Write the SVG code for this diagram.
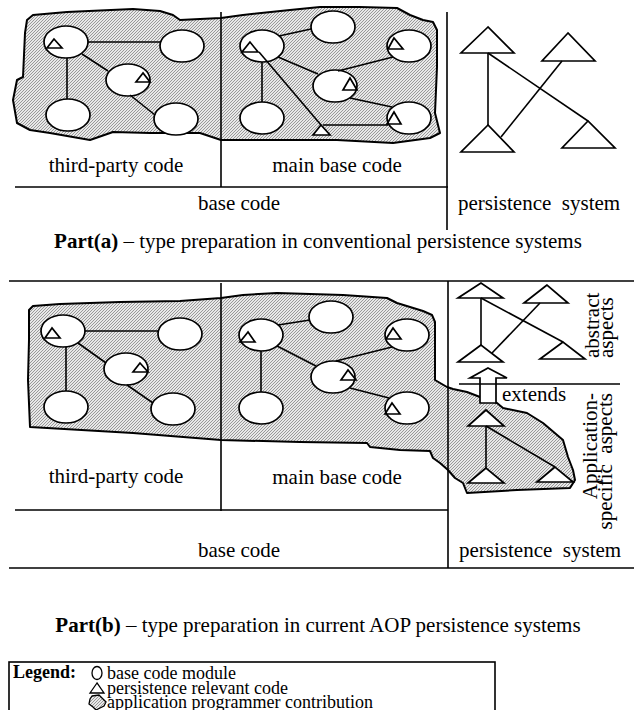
<svg xmlns="http://www.w3.org/2000/svg" width="634" height="710" viewBox="0 0 634 710">
<defs>
<pattern id="hatch" patternUnits="userSpaceOnUse" width="3" height="3">
<rect width="3" height="3" fill="#e8e8e8"/>
<path d="M-1,1 L1,-1 M0,3 L3,0 M2,4 L4,2" stroke="#858585" stroke-width="0.8"/>
</pattern>
</defs>
<style>
.bg{fill:#fff}
.blob{fill:url(#hatch);stroke:#000;stroke-width:2;stroke-linejoin:round}
.n{fill:#fff;stroke:#000;stroke-width:1.7}
.t{fill:#fff;stroke:#000;stroke-width:1.7;stroke-linejoin:miter}
.ti{fill:none;stroke:#000;stroke-width:1.7}
.e{stroke:#000;stroke-width:1.6;fill:none}
.d{stroke:#000;stroke-width:1.6;fill:none}
.lbl{font-family:"Liberation Serif","Times New Roman",serif;font-size:21px;fill:#000}
.cap{font-family:"Liberation Serif","Times New Roman",serif;font-size:21px;fill:#000}
.leg{font-family:"Liberation Serif","Times New Roman",serif;font-size:18px;fill:#000}
.b{font-weight:bold}
.pre{white-space:pre}
</style>
<rect class="bg" x="0" y="0" width="634" height="710"/>

<!-- ========== PART (a) ========== -->
<g id="blob-a">
<path class="blob" d="M27,20 L33,15 L67,12 L133,9 L160,11 L173,15 L180,20 L200,19 L221,18 L243,15 L290,10 L320,7 L360,7 L397,8 L410,15 L423,20 L433,22 L437,30 L437,67 L436,90 L435,113 L440,133 L430,138 L393,143 L337,140 L243,140 L221,140 L200,133 L150,133 L113,132 L90,140 L50,133 L30,130 L17,123 L13,100 L17,80 L23,77 L25,33 Z"/>
</g>
<g id="frame-a">
<line class="d" x1="221" y1="12" x2="221" y2="187"/>
<line class="d" x1="15" y1="187" x2="448" y2="187"/>
<line class="d" x1="447" y1="12" x2="447" y2="230"/>
</g>
<g id="nodes-a">
<g id="a-tp1"><ellipse class="n" cx="66" cy="42" rx="22" ry="16"/><polygon class="ti" points="54,39 47,48 62,48"/></g>
<g id="a-tp2"><ellipse class="n" cx="182" cy="46" rx="22" ry="16"/></g>
<g id="a-tp3"><ellipse class="n" cx="128" cy="80" rx="22" ry="16"/><polygon class="ti" points="143,73 136,82 150,82"/></g>
<g id="a-tp4"><ellipse class="n" cx="68" cy="115" rx="22" ry="16"/></g>
<g id="a-tp5"><ellipse class="n" cx="176" cy="119" rx="22" ry="16"/></g>
<g id="a-m1"><ellipse class="n" cx="262" cy="46" rx="22" ry="16"/><polygon class="ti" points="250,42 242,52 258,52"/></g>
<g id="a-m2"><ellipse class="n" cx="333" cy="27" rx="22" ry="16"/></g>
<g id="a-m3"><ellipse class="n" cx="409" cy="46" rx="22" ry="16"/><polygon class="ti" points="394,38 388,49 403,49"/></g>
<g id="a-m4"><ellipse class="n" cx="335" cy="86" rx="22" ry="16"/><polygon class="ti" points="350,78 343,90 357,90"/></g>
<g id="a-m5"><ellipse class="n" cx="262" cy="118" rx="22" ry="16"/></g>
<g id="a-m6"><ellipse class="n" cx="409" cy="118" rx="22" ry="16"/><polygon class="ti" points="394,112 387,124 401,124"/></g>
<g id="a-mt"><polygon class="t" points="321,125 313,135 330,135"/></g>
<g id="a-p1"><polygon class="t" points="488,27 461,53 514,53"/></g>
<g id="a-p2"><polygon class="t" points="568,33 542,61 595,61"/></g>
<g id="a-p3"><polygon class="t" points="488,125 461,152 514,152"/></g>
<g id="a-p4"><polygon class="t" points="588,121 562,148 615,148"/></g>
</g>
<g id="edges-a">
<line class="e" x1="88" y1="42" x2="161" y2="42"/>
<line class="e" x1="67" y1="58" x2="67" y2="99"/>
<line class="e" x1="82" y1="54" x2="108" y2="71"/>
<line class="e" x1="130" y1="95" x2="155" y2="115"/>
<line class="e" x1="279" y1="36" x2="311" y2="29"/>
<line class="e" x1="278" y1="57" x2="318" y2="74"/>
<line class="e" x1="262" y1="62" x2="262" y2="102"/>
<line class="e" x1="259" y1="52" x2="321" y2="125"/>
<line class="e" x1="323" y1="125" x2="388" y2="125"/>
<line class="e" x1="338" y1="71" x2="393" y2="57"/>
<line class="e" x1="350" y1="98" x2="392" y2="107"/>
<line class="e" x1="488" y1="53" x2="488" y2="125"/>
<line class="e" x1="488" y1="53" x2="588" y2="121"/>
<line class="e" x1="562" y1="61" x2="501" y2="137"/>
</g>
<g id="labels-a">
<text class="lbl" x="116" y="172" text-anchor="middle">third-party code</text>
<text class="lbl" x="337" y="172" text-anchor="middle">main base code</text>
<text class="lbl" x="239" y="210" text-anchor="middle">base code</text>
<text class="lbl pre" x="458" y="210" xml:space="preserve">persistence  system</text>
<text class="cap" x="318" y="248" text-anchor="middle"><tspan class="b">Part(a)</tspan> – type preparation in conventional persistence systems</text>
</g>

<!-- ========== PART (b) ========== -->
<g id="blob-b">
<path class="blob" d="M29,310 L33,306 L60,304 L120,302 L180,301 L221,298 L243,295 L277,293 L343,295 L387,298 L397,303 L410,307 L423,311 L432,315 L435,322 L435,380 L447,387 L453,389 L467,392 L480,397 L497,403 L503,408 L527,413 L543,423 L563,440 L568,457 L573,470 L575,480 L570,488 L517,490 L467,493 L463,483 L455,478 L448,470 L440,463 L433,458 L430,451 L400,450 L370,447 L367,443 L300,442 L221,440 L133,433 L30,427 L28,380 L29,340 Z"/>
</g>
<g id="frame-b">
<line class="d" x1="9" y1="281" x2="634" y2="281"/>
<line class="d" x1="221" y1="283" x2="221" y2="511"/>
<line class="d" x1="15" y1="510" x2="448" y2="510"/>
<line class="d" x1="448" y1="281" x2="448" y2="568"/>
<line class="d" x1="9" y1="568" x2="634" y2="568"/>
</g>
<g id="nodes-b">
<g id="b-tp1"><ellipse class="n" cx="63" cy="331" rx="22" ry="16"/><polygon class="ti" points="52,328 45,338 60,338"/></g>
<g id="b-tp2"><ellipse class="n" cx="180" cy="334" rx="22" ry="16"/></g>
<g id="b-tp3"><ellipse class="n" cx="126" cy="369" rx="22" ry="16"/><polygon class="ti" points="140,363 133,372 148,372"/></g>
<g id="b-tp4"><ellipse class="n" cx="66" cy="407" rx="22" ry="16"/></g>
<g id="b-tp5"><ellipse class="n" cx="173" cy="409" rx="22" ry="16"/></g>
<g id="b-m1"><ellipse class="n" cx="261" cy="335" rx="22" ry="16"/><polygon class="ti" points="248,332 240,342 255,342"/></g>
<g id="b-m2"><ellipse class="n" cx="331" cy="317" rx="22" ry="16"/></g>
<g id="b-m3"><ellipse class="n" cx="407" cy="335" rx="22" ry="16"/><polygon class="ti" points="393,328 386,339 401,339"/></g>
<g id="b-m4"><ellipse class="n" cx="333" cy="377" rx="22" ry="16"/><polygon class="ti" points="348,370 341,380 356,380"/></g>
<g id="b-m5"><ellipse class="n" cx="261" cy="408" rx="22" ry="16"/></g>
<g id="b-m6"><ellipse class="n" cx="407" cy="408" rx="22" ry="16"/><polygon class="ti" points="392,403 385,414 400,414"/></g>
<g id="b-aa1"><polygon class="t" points="481,283 458,298 503,298"/></g>
<g id="b-aa2"><polygon class="t" points="547,285 524,303 568,303"/></g>
<g id="b-aa3"><polygon class="t" points="481,345 458,362 503,362"/></g>
<g id="b-aa4"><polygon class="t" points="563,342 540,359 585,359"/></g>
<g id="b-as1"><polygon class="t" points="486,410 468,426 504,426"/></g>
<g id="b-as2"><polygon class="t" points="486,468 468,483 504,483"/></g>
<g id="b-as3"><polygon class="t" points="555,467 537,482 573,482"/></g>
<g id="b-extends"><path class="t" d="M488,368 L507,378 L496,378 L496,403 L480,403 L480,378 L470,378 Z"/></g>
</g>
<g id="edges-b">
<line class="e" x1="85" y1="331" x2="158" y2="331"/>
<line class="e" x1="66" y1="347" x2="66" y2="391"/>
<line class="e" x1="78" y1="343" x2="106" y2="363"/>
<line class="e" x1="127" y1="385" x2="153" y2="403"/>
<line class="e" x1="278" y1="325" x2="310" y2="320"/>
<line class="e" x1="261" y1="351" x2="261" y2="392"/>
<line class="e" x1="277" y1="346" x2="316" y2="366"/>
<line class="e" x1="336" y1="361" x2="392" y2="347"/>
<line class="e" x1="350" y1="388" x2="389" y2="398"/>
<line class="e" x1="481" y1="298" x2="481" y2="345"/>
<line class="e" x1="481" y1="298" x2="563" y2="342"/>
<line class="e" x1="540" y1="303" x2="492" y2="353"/>
<line class="e" x1="486" y1="426" x2="486" y2="468"/>
<line class="e" x1="486" y1="426" x2="555" y2="467"/>
<line class="d" x1="459" y1="384" x2="620" y2="384"/>
</g>
<g id="labels-b">
<text class="lbl" x="116" y="483" text-anchor="middle">third-party code</text>
<text class="lbl" x="337" y="484" text-anchor="middle">main base code</text>
<text class="lbl" x="239" y="557" text-anchor="middle">base code</text>
<text class="lbl pre" x="459" y="557" xml:space="preserve">persistence  system</text>
<text class="lbl" x="502" y="401">extends</text>
<text class="lbl" transform="translate(599,358) rotate(-90)">abstract</text>
<text class="lbl" transform="translate(613,358) rotate(-90)">aspects</text>
<text class="lbl" transform="translate(597,393) rotate(-90)" text-anchor="end">Application-</text>
<text class="lbl pre" transform="translate(612,393) rotate(-90)" text-anchor="end" xml:space="preserve">specific  aspects</text>
<text class="cap" x="318" y="632" text-anchor="middle"><tspan class="b">Part(b)</tspan> – type preparation in current AOP persistence systems</text>
</g>

<!-- ========== LEGEND ========== -->
<g id="legend">
<rect x="9" y="662" width="486" height="60" fill="none" stroke="#000" stroke-width="1.6"/>
<text class="leg b" x="13" y="678">Legend:</text>
<ellipse cx="97" cy="673" rx="5" ry="6.5" fill="#fff" stroke="#000" stroke-width="1.3"/>
<text class="leg" x="107" y="679">base code module</text>
<polygon points="97,683 90,693 104,693" fill="#fff" stroke="#000" stroke-width="1.3"/>
<text class="leg" x="107" y="694">persistence relevant code</text>
<path d="M92,696 L99,695 L103,699 L106,702 L104,706 L100,708 L96,710 L93,707 L89,704 L90,699 Z" fill="url(#hatch)" stroke="#000" stroke-width="1.3"/>
<text class="leg" x="107" y="708">application programmer contribution</text>
</g>
</svg>
